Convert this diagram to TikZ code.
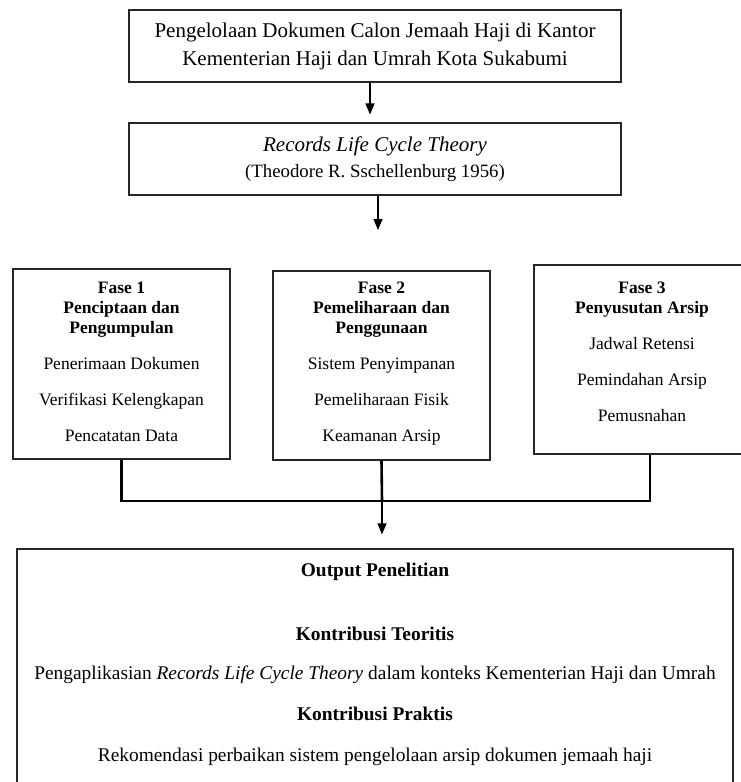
\documentclass[tikz,border=0pt]{standalone}
\usepackage{fontspec}
\setmainfont{Liberation Serif}
\usetikzlibrary{arrows.meta,positioning}
\newcommand{\headfont}{\fontsize{21}{28}\selectfont}
\newcommand{\fasefont}{\fontsize{17.5}{20}\selectfont}
\newcommand{\outfont}{\fontsize{19.4}{22.3}\selectfont}
\tikzset{
	box/.style={draw=black!85, line width=1.1pt, rectangle, inner sep=0pt},
	fasetext/.style={anchor=north, align=center, inner sep=0pt, font=\fasefont},
	arr/.style={-{Triangle[length=11pt,width=9pt]}, line width=1.2pt},
	link/.style={line width=2.6pt},
}

\begin{document}
\begin{tikzpicture}[x=1pt, y=-1pt]
			%%%%% START %%%%%
			\useasboundingbox (0, 0) rectangle (741, 782);
			\clip (0, 0) rectangle (741, 782);
			
			\node[box, minimum width=492pt, minimum height=72pt, align=center, font=\headfont] (topic) at (375, 46)
				{Pengelolaan Dokumen Calon Jemaah Haji di Kantor\\Kementerian Haji dan Umrah Kota Sukabumi};
			\node[box, minimum width=492pt, minimum height=72pt, align=center, font=\fontsize{21}{26}\selectfont] (theory) at (375, 159)
				{\textit{Records Life Cycle Theory}\\{\fontsize{18.8}{26}\selectfont(Theodore R. Sschellenburg 1956)}};
			
			\draw[arr, shorten >=8pt] ([xshift=-5pt]topic.south) -- ([xshift=-5pt]theory.north);
			\coordinate (split) at (378, 230);
			\draw[arr] (theory.south -| split) -- (split);
			
			%%%%% FASE %%%%%
			\node[box, minimum width=217pt, minimum height=190pt] (fase1) at (121.5, 364) {};
			\node[box, minimum width=217pt, minimum height=189pt] (fase2) at (381.5, 365.5) {};
			\node[box, minimum width=232pt, minimum height=189pt] (fase3) at (650, 359.5) {};
			
			\node[fasetext] (fase1txt) at (121.5, 282) {\textbf{Fase 1}\\\textbf{Penciptaan dan}\\\textbf{Pengumpulan}\\[16pt]Penerimaan Dokumen\\[16pt]Verifikasi Kelengkapan\\[16pt]Pencatatan Data};
			\node[fasetext] (fase2txt) at (381.5, 282) {\textbf{Fase 2}\\\textbf{Pemeliharaan dan}\\\textbf{Penggunaan}\\[16pt]Sistem Penyimpanan\\[16pt]Pemeliharaan Fisik\\[16pt]Keamanan Arsip};
			\node[fasetext] (fase3txt) at (642, 282) {\textbf{Fase 3}\\\textbf{Penyusutan Arsip}\\[16pt]Jadwal Retensi\\[16pt]Pemindahan Arsip\\[16pt]Pemusnahan};
			
			\coordinate (merge) at (382, 501);
			\draw[link] (fase1.south) |- (merge) -| (fase3.south);
			\draw[link] (fase2.south) -- (merge);
			
			%%%%% OUTPUT %%%%%
			\node[box, minimum width=716pt, minimum height=270pt] (output) at (375, 684) {};
			\draw[arr, shorten >=14pt] (merge) -- (output.north -| merge);
			
			\node[anchor=north, align=center, inner sep=0pt, font=\outfont] (outtxt) at (375, 562.5)
				{\textbf{Output Penelitian}\\[42pt]\textbf{Kontribusi Teoritis}\\[17pt]Pengaplikasian \textit{Records Life Cycle Theory} dalam konteks Kementerian Haji dan Umrah\\[18pt]\textbf{Kontribusi Praktis}\\[19pt]Rekomendasi perbaikan sistem pengelolaan arsip dokumen jemaah haji};
			%%%%% END %%%%%
\end{tikzpicture}
\end{document}
